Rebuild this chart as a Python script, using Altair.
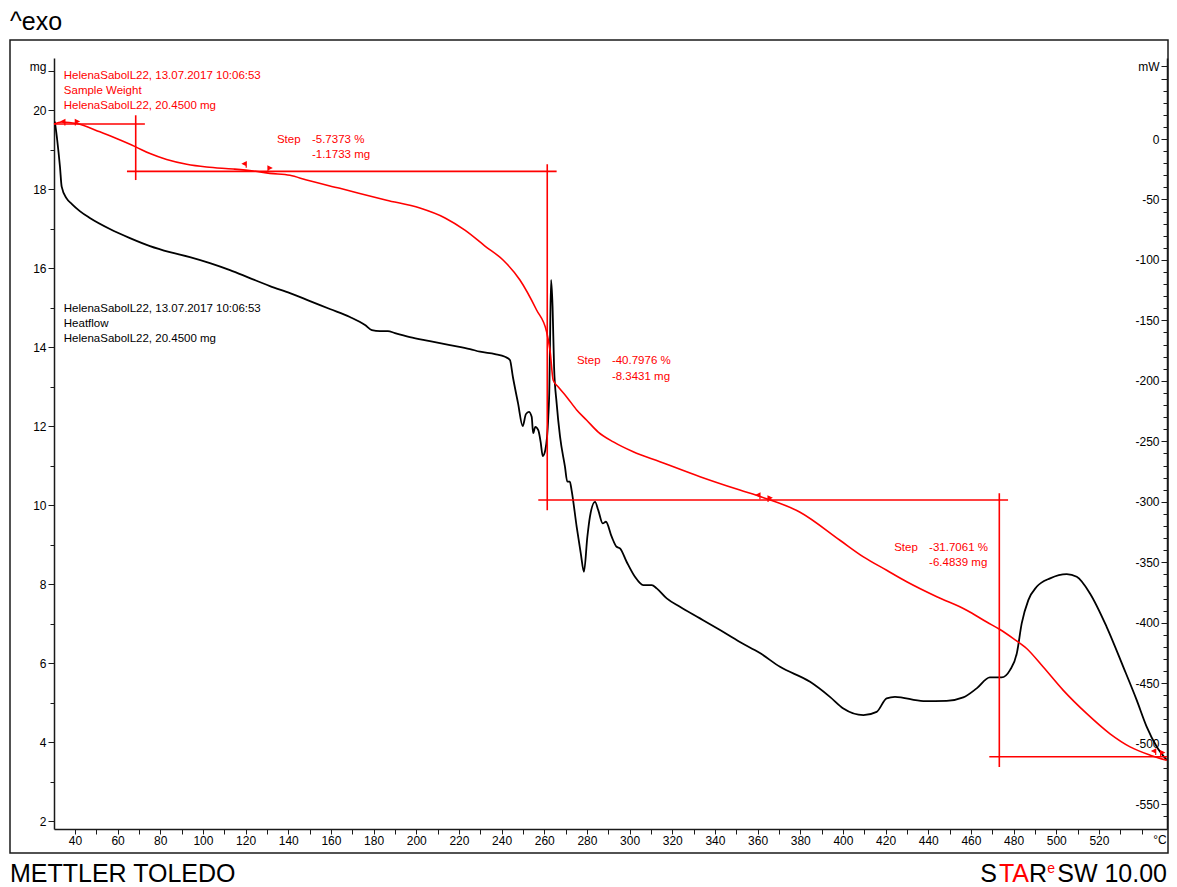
import altair as alt
import pandas as pd

# ---------------- data ----------------
# TGA curve: temperature (°C) / sample weight (mg)
tg_temp = [30.2, 33.9, 40.8, 51.7, 59.5, 68.5, 75.2, 83.0, 92.4, 101.7,
           114.2, 123.6, 131.4, 140.8, 148.6, 164.2, 186.1, 201.7, 213.5, 222.8,
           232.2, 240.8, 248.6, 256.4, 261.1, 262.7, 264.2, 266.6, 270.5, 275.2,
           279.9, 285.3, 292.4, 301.7, 314.2, 333.0, 351.7, 362.1, 379.9, 398.6,
           409.6, 420.5, 429.9, 444.0, 458.0, 467.4, 473.6, 479.9, 486.1, 493.9,
           503.3, 514.3, 525.2, 534.6, 544.0, 551.8]
tg_mass = [19.65, 19.70, 19.66, 19.45, 19.28, 19.07, 18.90, 18.75, 18.63, 18.56,
           18.51, 18.46, 18.40, 18.35, 18.23, 18.02, 17.72, 17.52, 17.27, 16.96,
           16.56, 16.20, 15.70, 14.94, 14.39, 13.92, 13.16, 12.99, 12.74, 12.41,
           12.15, 11.85, 11.60, 11.35, 11.10, 10.72, 10.38, 10.20, 9.82, 9.11,
           8.69, 8.35, 8.06, 7.68, 7.34, 7.04, 6.85, 6.62, 6.37, 5.90,
           5.31, 4.72, 4.21, 3.88, 3.67, 3.54]

# DSC curve: temperature (°C) / heat flow (mW)
hf_temp = [30.6, 31.7, 33.0, 33.8, 36.1, 38.6, 42.3, 47.0, 56.4, 65.8,
           75.2, 84.5, 93.9, 103.3, 112.7, 122.0, 131.4, 140.8, 150.2, 159.5,
           168.9, 176.0, 179.2, 183.0, 186.7, 190.0, 197.0, 206.4, 215.8, 225.2,
           229.9, 236.9, 241.6, 243.9, 245.3, 247.7, 249.9, 251.4, 252.8, 254.1,
           254.8, 255.8, 257.2, 258.3, 259.3, 260.5, 261.9, 262.4, 262.7, 263.2,
           263.9, 264.6, 265.8, 267.4, 269.7, 270.8, 272.0, 272.8, 275.2, 277.1,
           278.6, 280.2, 281.4, 283.8, 285.3, 287.4, 288.9, 291.6, 293.9, 295.5,
           298.6, 302.5, 306.4, 310.4, 312.7, 317.4, 323.6, 333.0, 342.4, 351.7,
           361.1, 370.5, 384.6, 393.9, 400.2, 409.6, 415.8, 420.5, 424.4, 437.7,
           448.6, 456.4, 462.7, 468.9, 474.4, 478.3, 481.5, 483.8, 486.9, 490.8,
           497.1, 504.9, 509.6, 515.8, 523.6, 531.4, 537.7, 542.4, 547.1, 551.8]
hf_power = [14.3, -0.8, -22.9, -39.4, -49.1, -53.8, -59.6, -65.3, -74.4, -81.9,
            -88.5, -93.5, -97.6, -102.6, -108.4, -115.0, -121.6, -127.4, -134.0, -140.6,
            -147.2, -153.8, -158.0, -158.8, -158.8, -160.5, -163.8, -167.1, -170.4, -173.7,
            -175.9, -177.8, -180.1, -182.8, -196.8, -218.4, -237.4, -227.5, -225.6, -229.7,
            -243.2, -238.0, -240.7, -250.4, -262.2, -257.2, -229.7, -204.9, -168.7, -116.6,
            -138.7, -188.3, -218.4, -246.2, -271.0, -283.4, -283.4, -290.3, -320.7, -342.4,
            -357.9, -328.9, -312.4, -300.0, -306.9, -317.9, -316.5, -328.9, -337.2, -338.5,
            -349.6, -362.0, -368.9, -368.9, -371.6, -379.9, -386.8, -396.4, -406.1, -416.0,
            -425.1, -436.5, -448.9, -461.3, -470.9, -476.4, -473.7, -462.6, -461.3, -464.8,
            -464.6, -461.8, -454.3, -445.2, -445.2, -439.2, -425.4, -400.6, -381.3, -370.3,
            -363.3, -359.8, -362.0, -375.8, -403.4, -436.5, -464.0, -486.1, -502.6, -513.6]

# Step evaluation construction lines (°C / mg)
seg_t1 = [30.2, 68.5, 64.4, 261.4, 257.2, 473.3, 468.6]
seg_t2 = [72.8, 68.5, 265.8, 261.4, 477.4, 473.3, 551.9]
seg_m1 = [19.65, 19.87, 18.45, 18.63, 10.13, 10.30, 3.63]
seg_m2 = [19.65, 18.23, 18.45, 9.87, 10.13, 3.37, 3.63]

# Evaluation limit flags on the TGA curve
flag_left_t = [35.3, 120.3, 361.1, 546.6]
flag_left_m = [19.66, 18.59, 10.20, 3.72]
flag_right_t = [40.2, 130.5, 364.9, 548.9]
flag_right_m = [19.66, 18.48, 10.13, 3.68]

# Annotation texts
red_info = ["HelenaSabolL22, 13.07.2017 10:06:53", "Sample Weight", "HelenaSabolL22, 20.4500 mg"]
red_info_t = [34.8, 34.8, 34.8]
red_info_m = [20.86, 20.48, 20.10]
black_info = ["HelenaSabolL22, 13.07.2017 10:06:53", "Heatflow", "HelenaSabolL22, 20.4500 mg"]
black_info_t = [34.8, 34.8, 34.8]
black_info_m = [14.96, 14.58, 14.20]
step_labels = ["Step", "-5.7373 %", "-1.1733 mg",
               "Step", "-40.7976 %", "-8.3431 mg",
               "Step", "-31.7061 %", "-6.4839 mg"]
step_t = [134.7, 151.1, 151.1, 275.3, 291.7, 291.7, 424.0, 440.4, 440.4]
step_m = [19.24, 19.24, 18.86, 13.64, 13.64, 13.24, 8.91, 8.91, 8.53]

# ---------------- chart ----------------
RED = "#ff0000"
FONT = "Liberation Sans"
W, H = 1113, 771

tg_df = pd.DataFrame({"T": tg_temp, "mg": tg_mass})
hf_df = pd.DataFrame({"T": hf_temp, "mW": hf_power})
seg_df = pd.DataFrame({"T": seg_t1, "t2": seg_t2, "mg": seg_m1, "m2": seg_m2})
fl_df = pd.DataFrame({"T": flag_left_t, "mg": flag_left_m})
fr_df = pd.DataFrame({"T": flag_right_t, "mg": flag_right_m})
ri_df = pd.DataFrame({"T": red_info_t, "mg": red_info_m, "txt": red_info})
bi_df = pd.DataFrame({"T": black_info_t, "mg": black_info_m, "txt": black_info})
st_df = pd.DataFrame({"T": step_t, "mg": step_m, "txt": step_labels})
one = pd.DataFrame({"a": [0]})

x_scale = alt.Scale(domain=[30.2, 551.9], nice=False, zero=False)
mg_scale = alt.Scale(domain=[1.8, 21.32], nice=False, zero=False)
mw_scale = alt.Scale(domain=[-570.6, 67.0], nice=False, zero=False)

common_axis = dict(title=None, grid=False, domainColor="#1a1a1a", domainWidth=1.5,
                   tickColor="#1a1a1a", tickWidth=1, labelFont=FONT, labelFontSize=12,
                   labelColor="#000000", labelOverlap=False, labelFlush=False)

x_axis = alt.Axis(orient="bottom", values=list(range(40, 550, 10)),
                  labelExpr="datum.value % 20 == 0 && datum.value < 540 ? '' + datum.value : ''",
                  tickSize=5, labelPadding=1, **common_axis)
mg_axis = alt.Axis(orient="left", values=list(range(2, 22)),
                   labelExpr="datum.value == 21 ? 'mg' : (datum.value % 2 == 0 ? '' + datum.value : '')",
                   tickSize={"condition": {"test": "datum.value % 2 == 0 || datum.value == 21", "value": 6}, "value": 4},
                   labelOffset={"condition": {"test": "datum.value == 21", "value": -4}, "value": 0},
                   labelPadding=2, **common_axis)
mw_axis = alt.Axis(orient="left", offset=-W, values=list(range(-560, 70, 10)),
                   labelExpr="datum.value == 60 ? 'mW' : (datum.value % 50 == 0 && datum.value < 50 ? '' + datum.value : '')",
                   tickSize={"condition": {"test": "datum.value % 50 == 0 || datum.value == 60", "value": 6}, "value": 4},
                   labelPadding=2, **common_axis)

X = alt.X("T:Q", scale=x_scale, axis=x_axis)
Ymg = alt.Y("mg:Q", scale=mg_scale, axis=mg_axis)

black_line = alt.Chart(hf_df).mark_line(color="#000000", strokeWidth=1.8, interpolate="monotone").encode(
    x=X, y=alt.Y("mW:Q", scale=mw_scale, axis=mw_axis),
)

red_line = alt.Chart(tg_df).mark_line(color=RED, strokeWidth=1.6, interpolate="monotone").encode(
    x=X, y=Ymg,
)

steps = alt.Chart(seg_df).mark_rule(color=RED, strokeWidth=1.6).encode(
    x=X, x2="t2:Q", y=Ymg, y2="m2:Q",
)

flag_l = alt.Chart(fl_df).mark_point(
    shape="M0,0.5 L0,-1 L-0.9,-0.55 L0,-0.1 Z", filled=True, color=RED,
    stroke=RED, strokeWidth=1.2, size=60, opacity=1).encode(x=X, y=Ymg)
flag_r = alt.Chart(fr_df).mark_point(
    shape="M0,0.5 L0,-1 L0.9,-0.55 L0,-0.1 Z", filled=True, color=RED,
    stroke=RED, strokeWidth=1.2, size=60, opacity=1).encode(x=X, y=Ymg)


def text_layer(df, color):
    return alt.Chart(df).mark_text(align="left", baseline="middle", font=FONT,
                                   fontSize=11.5, color=color).encode(
        x=X, y=Ymg, text="txt:N")


mg_group = alt.layer(red_line, steps, flag_l, flag_r,
                     text_layer(ri_df, RED), text_layer(bi_df, "#000000"),
                     text_layer(st_df, RED))

frame = alt.Chart(one).mark_rect(fillOpacity=0, stroke="#1a1a1a", strokeWidth=1.5).encode(
    x=alt.value(-44), x2=alt.value(1114), y=alt.value(-18), y2=alt.value(795))


def deco(txt, x, y, size=25, color="#000000", align="left"):
    return alt.Chart(one).mark_text(align=align, baseline="alphabetic", font=FONT,
                                    fontSize=size, color=color).encode(
        x=alt.value(x), y=alt.value(y), text=alt.value(txt))


BASE = 824
decor = [
    deco("^exo", -44, -28),
    deco("METTLER TOLEDO", -44, BASE),
    deco("S", 943, BASE, align="right"),
    deco("TA", 975, BASE, color=RED, align="right"),
    deco("R", 993, BASE, align="right"),
    deco("e", 1001, BASE - 9, size=14, color=RED, align="right"),
    deco("SW 10.00", 1113, BASE, align="right"),
    alt.Chart(one).mark_text(align="center", baseline="middle", font=FONT, fontSize=12,
                             color="#000000").encode(x=alt.value(1106), y=alt.value(782),
                                                     text=alt.value("°C")),
]

chart = alt.layer(black_line, mg_group, frame, *decor).resolve_scale(y="independent").properties(
    width=W, height=H,
    autosize=alt.AutoSizeParams(type="none"),
    padding={"left": 46, "top": 50, "right": 2, "bottom": 58},
    background="white",
).configure_view(stroke=None)

chart.save("out.html", embed_options={"renderer": "svg", "actions": False})
